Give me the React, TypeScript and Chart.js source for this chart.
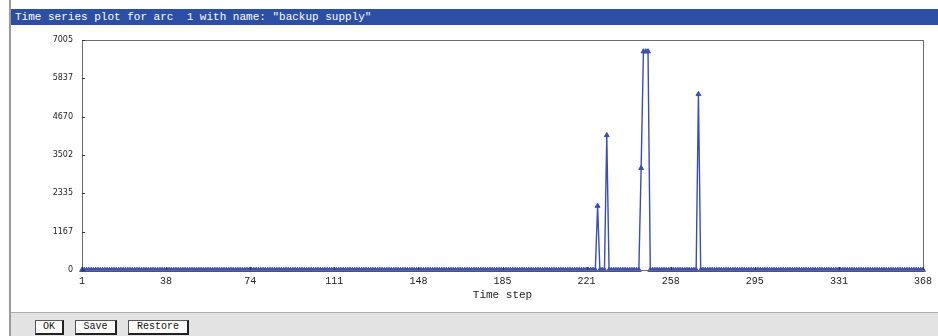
import React, { useEffect, useRef } from "react";
import { Chart, registerables } from "chart.js";

Chart.register(...registerables);

const TITLE = 'Time series plot for arc  1 with name: "backup supply"';
const X_TITLE = "Time step";
const FIRST_STEP = 1;
const LAST_STEP = 368;
const Y_MAX = 7005;
const yTickLabels = ["0", "1167", "2335", "3502", "4670", "5837", "7005"];
const xTickLabels = ["1", "38", "74", "111", "148", "185", "221", "258", "295", "331", "368"];
// non-zero readings; every other time step reads 0
const spikeSteps = [226, 230, 245, 246, 247, 248, 270];
const spikeValues = [1950, 4100, 3100, 6650, 6650, 6650, 5350];

const LINE_COLOR = "#3a4db0";

const framePlugin = {
  id: "frame",
  afterDatasetsDraw(chart: any) {
    const { ctx, chartArea: a, scales } = chart;
    ctx.save();
    ctx.strokeStyle = "#6b6b6b";
    ctx.lineWidth = 1;
    ctx.strokeRect(Math.round(a.left) + 0.5, Math.round(a.top) + 0.5, Math.round(a.right - a.left), Math.round(a.bottom - a.top));
    ctx.strokeStyle = "#333";
    scales.y.ticks.forEach((t: any) => {
      const y = Math.round(scales.y.getPixelForValue(t.value)) + 0.5;
      ctx.beginPath();
      ctx.moveTo(a.left, y);
      ctx.lineTo(a.left + 3, y);
      ctx.stroke();
    });
    scales.x.ticks.forEach((t: any) => {
      const x = Math.round(scales.x.getPixelForValue(t.value)) + 0.5;
      ctx.beginPath();
      ctx.moveTo(x, a.bottom);
      ctx.lineTo(x, a.bottom - 3);
      ctx.stroke();
    });
    ctx.restore();
  },
};

function ChartBox() {
  const ref = useRef<HTMLCanvasElement>(null);
  useEffect(() => {
    const data: { x: number; y: number }[] = [];
    for (let s = FIRST_STEP; s <= LAST_STEP; s++) {
      const i = spikeSteps.indexOf(s);
      data.push({ x: s, y: i >= 0 ? spikeValues[i] : 0 });
    }
    const chart = new Chart(ref.current!, {
      type: "line",
      data: {
        datasets: [
          {
            data,
            borderColor: LINE_COLOR,
            backgroundColor: LINE_COLOR,
            borderWidth: 1.4,
            pointStyle: "triangle",
            pointRadius: 2.8,
            pointBorderWidth: 1,
            pointBorderColor: LINE_COLOR,
            pointBackgroundColor: LINE_COLOR,
            tension: 0,
            clip: false as any,
          },
        ],
      },
      options: {
        animation: false,
        responsive: false,
        maintainAspectRatio: false,
        layout: { padding: { top: 13, right: 15, left: 0, bottom: 0 } },
        plugins: { legend: { display: false }, tooltip: { enabled: false } },
        scales: {
          x: {
            type: "linear",
            min: FIRST_STEP,
            max: LAST_STEP,
            afterFit(s: any) {
              s.height = 42;
            },
            afterBuildTicks(s: any) {
              const n = xTickLabels.length - 1;
              s.ticks = xTickLabels.map((_, i) => ({ value: FIRST_STEP + (i * (LAST_STEP - FIRST_STEP)) / n }));
            },
            grid: { display: false, drawTicks: false },
            border: { display: false },
            ticks: {
              autoSkip: false,
              maxRotation: 0,
              padding: 5,
              color: "#222",
              font: { family: "Liberation Mono", size: 10 },
              callback: (_v: any, i: number) => xTickLabels[i],
            },
            title: {
              display: true,
              text: X_TITLE,
              color: "#222",
              font: { family: "Liberation Mono", size: 11 },
              padding: 10,
            },
          },
          y: {
            type: "linear",
            min: 0,
            max: Y_MAX,
            afterFit(s: any) {
              s.width = 72;
            },
            afterBuildTicks(s: any) {
              const n = yTickLabels.length - 1;
              s.ticks = yTickLabels.map((_, i) => ({ value: (i * Y_MAX) / n }));
            },
            grid: { display: false, drawTicks: false },
            border: { display: false },
            ticks: {
              padding: 9,
              color: "#222",
              font: { family: "DejaVu Sans", size: 8 },
              callback: (_v: any, i: number) => yTickLabels[i],
            },
          },
        },
      },
      plugins: [framePlugin],
    });
    return () => chart.destroy();
  }, []);
  return <canvas ref={ref} width={928} height={286} style={{ position: "absolute", left: 10, top: 26, width: 928, height: 286 }} />;
}

const btn: React.CSSProperties = {
  position: "absolute",
  top: 320,
  height: 12,
  background: "#fff",
  borderTop: "1px solid #555",
  borderLeft: "1px solid #555",
  borderRight: "2px solid #222",
  borderBottom: "2px solid #222",
  fontFamily: "Liberation Mono",
  fontSize: 10,
  lineHeight: "12px",
  textAlign: "center",
  color: "#111",
  boxSizing: "content-box",
};

export default function App() {
  return (
    <div style={{ position: "fixed", left: 0, top: 0, width: 938, height: 336, background: "#fff", overflow: "hidden" }}>
      <div style={{ position: "absolute", left: 9, top: 0, width: 2, height: 336, background: "#9a9a9a" }} />
      <div
        style={{
          position: "absolute",
          left: 11,
          top: 9,
          width: 927,
          height: 16,
          background: "#2d4ea5",
          color: "#fff",
          fontFamily: "Liberation Mono",
          fontSize: 11,
          lineHeight: "16px",
          whiteSpace: "pre",
          paddingLeft: 4,
        }}
      >
        {TITLE}
      </div>
      <ChartBox />
      <div style={{ position: "absolute", left: 11, top: 312, width: 927, height: 24, background: "#e3e3e3", borderTop: "1px solid #aaa" }} />
      <div style={{ ...btn, left: 35, width: 26 }}>OK</div>
      <div style={{ ...btn, left: 75, width: 39 }}>Save</div>
      <div style={{ ...btn, left: 128, width: 58 }}>Restore</div>
    </div>
  );
}
